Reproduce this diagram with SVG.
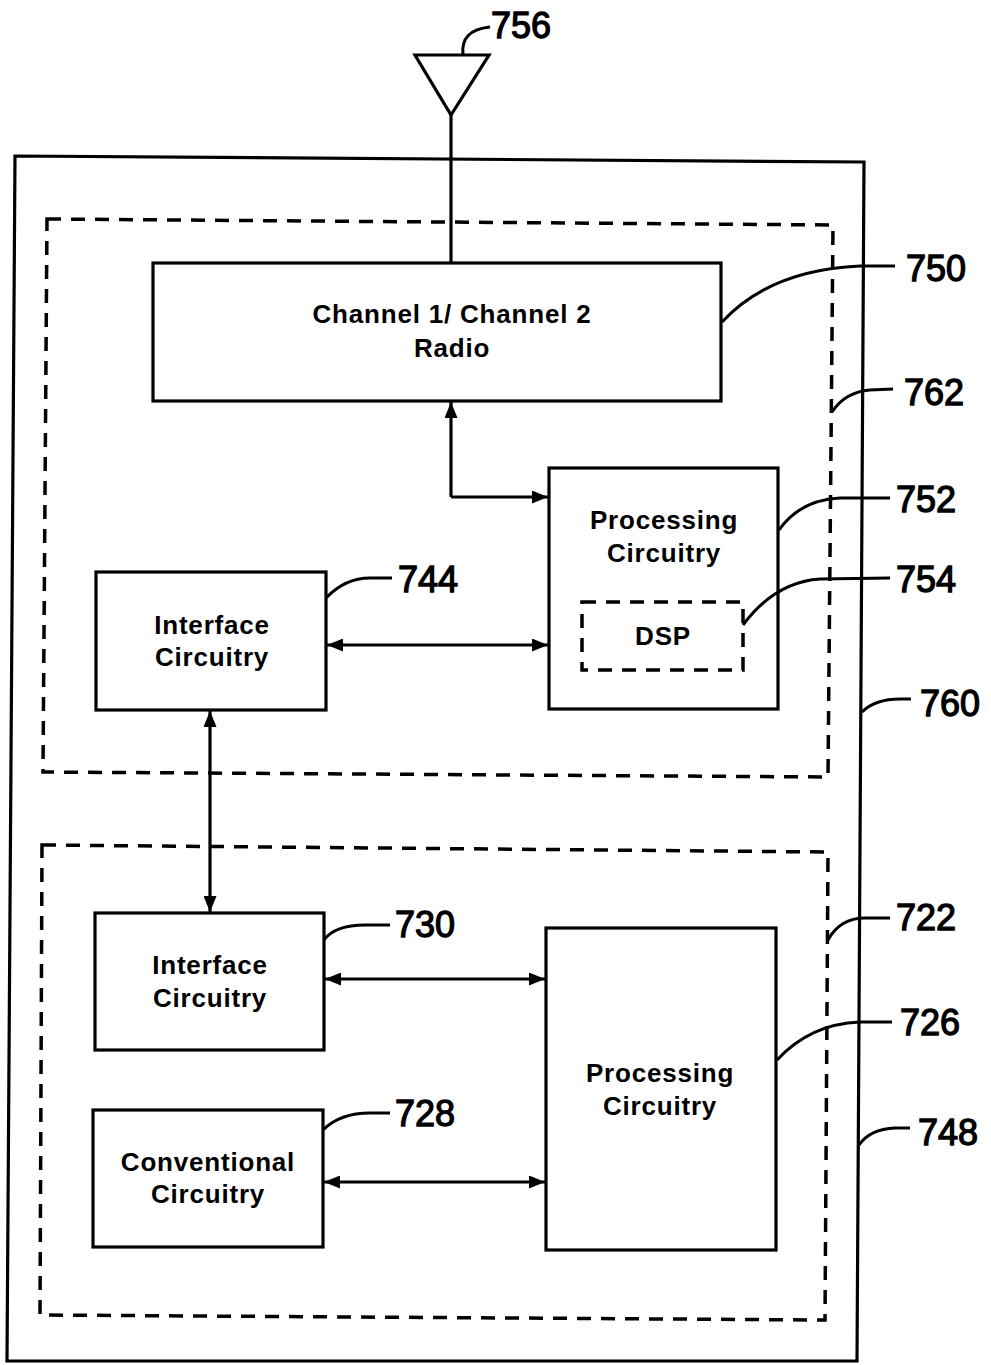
<svg xmlns="http://www.w3.org/2000/svg" width="991" height="1365" viewBox="0 0 991 1365">
<style>
.box{fill:none;stroke:#000;stroke-width:3.2}
.dash{fill:none;stroke:#000;stroke-width:3.5;stroke-dasharray:14 10}
.ln{fill:none;stroke:#000;stroke-width:3.2}
.ld{fill:none;stroke:#000;stroke-width:3}
.t{font-family:"Liberation Sans",Arial,sans-serif;font-size:26px;font-weight:bold;letter-spacing:0.8px;fill:#000;text-anchor:middle}
.n{font-family:"Liberation Sans",Arial,sans-serif;font-size:36px;fill:#000;stroke:#000;stroke-width:1.3}
</style>
<defs>
<marker id="ah" viewBox="0 0 16 13" refX="16" refY="6.5" markerWidth="16" markerHeight="13" markerUnits="userSpaceOnUse" orient="auto-start-reverse">
<path d="M0,0 L16,6.5 L0,13 Z" fill="#000"/>
</marker>
</defs>
<rect width="991" height="1365" fill="#fff"/>
<g id="device-748">
<path class="box" d="M15,156 L864,162 L857,1361 L7,1361 Z"/>
</g>
<g id="module-760-762">
<path class="dash" d="M47,219 L833,225 L828,777 L43,772 Z"/>
</g>
<g id="module-722">
<path class="dash" d="M42,845 L828,852 L825,1320 L40,1315 Z"/>
</g>
<g id="antenna-756">
<path class="ln" d="M415,55 L489,55 L451,115 Z" stroke-width="3.5"/>
<path class="ln" d="M451,115 L451,263" stroke-width="3.5"/>
</g>
<g id="radio-750">
<rect class="box" x="153" y="263" width="568" height="138"/>
<text class="t" x="452" y="323">Channel 1/ Channel 2</text>
<text class="t" x="452" y="357">Radio</text>
</g>
<g id="proc-752">
<rect class="box" x="549" y="468" width="229" height="241"/>
<text class="t" x="664" y="529">Processing</text>
<text class="t" x="664" y="562">Circuitry</text>
</g>
<g id="dsp-754">
<rect class="dash" x="582" y="602" width="161" height="68" stroke-dasharray="12 9"/>
<text class="t" x="663" y="645">DSP</text>
</g>
<g id="iface-744">
<rect class="box" x="96" y="572" width="230" height="138"/>
<text class="t" x="212" y="634">Interface</text>
<text class="t" x="212" y="666">Circuitry</text>
</g>
<g id="iface-730">
<rect class="box" x="95" y="913" width="229" height="137"/>
<text class="t" x="210" y="974">Interface</text>
<text class="t" x="210" y="1007">Circuitry</text>
</g>
<g id="proc-726">
<rect class="box" x="546" y="928" width="230" height="322"/>
<text class="t" x="660" y="1082">Processing</text>
<text class="t" x="660" y="1115">Circuitry</text>
</g>
<g id="conv-728">
<rect class="box" x="93" y="1110" width="230" height="137"/>
<text class="t" x="208" y="1171">Conventional</text>
<text class="t" x="208" y="1203">Circuitry</text>
</g>
<g id="connectors">
<path class="ln" d="M451,497 L451,402" marker-end="url(#ah)"/>
<path class="ln" d="M451,497 L548,497" marker-end="url(#ah)"/>
<path class="ln" d="M327,645 L548,645" marker-start="url(#ah)" marker-end="url(#ah)"/>
<path class="ln" d="M210,711 L210,912" marker-start="url(#ah)" marker-end="url(#ah)"/>
<path class="ln" d="M325,979 L545,979" marker-start="url(#ah)" marker-end="url(#ah)"/>
<path class="ln" d="M324,1182 L545,1182" marker-start="url(#ah)" marker-end="url(#ah)"/>
</g>
<g id="leaders">
<path class="ld" d="M463,55 Q460,30 490,27"/>
<path class="ld" d="M722,322 Q770,270 860,266 L895,266"/>
<path class="ld" d="M832,412 Q845,392 870,390 L893,389"/>
<path class="ld" d="M779,530 Q800,500 840,498 L890,498"/>
<path class="ld" d="M743,625 Q775,582 820,579 L890,578"/>
<path class="ld" d="M326,598 Q345,578 370,578 L392,578"/>
<path class="ld" d="M862,712 Q875,699 900,699 L911,699"/>
<path class="ld" d="M324,940 Q335,925 365,925 L390,925"/>
<path class="ld" d="M828,940 Q840,918 865,918 L890,918"/>
<path class="ld" d="M777,1060 Q810,1024 860,1022 L892,1022"/>
<path class="ld" d="M323,1130 Q340,1113 370,1113 L390,1113"/>
<path class="ld" d="M859,1145 Q870,1129 895,1128 L910,1128"/>
</g>
<g id="labels">
<text class="n" x="491" y="38">756</text>
<text class="n" x="906" y="281">750</text>
<text class="n" x="904" y="405">762</text>
<text class="n" x="896" y="512">752</text>
<text class="n" x="896" y="592">754</text>
<text class="n" x="398" y="592">744</text>
<text class="n" x="920" y="716">760</text>
<text class="n" x="395" y="937">730</text>
<text class="n" x="896" y="930">722</text>
<text class="n" x="900" y="1035">726</text>
<text class="n" x="395" y="1126">728</text>
<text class="n" x="918" y="1145">748</text>
</g>
</svg>
